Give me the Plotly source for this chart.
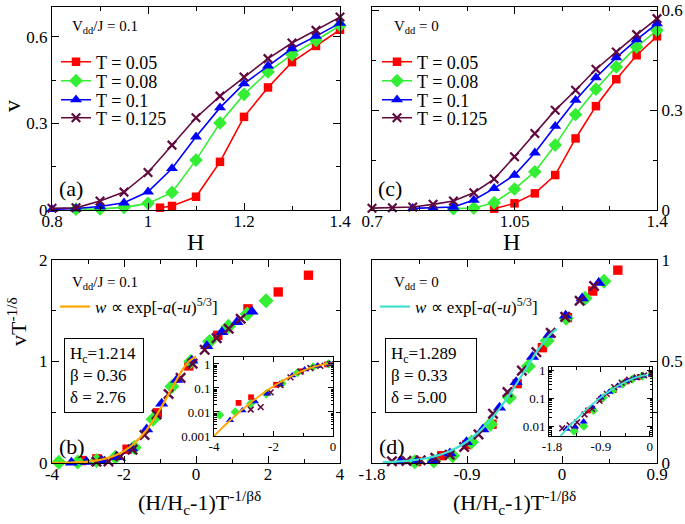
import plotly.graph_objects as go

SERIF = "Liberation Serif"
W, H = 685, 524

# ---------------- data ----------------
series_labels = ["T = 0.05", "T = 0.08", "T = 0.1", "T = 0.125"]
series_colors = ["#ff0000", "#33ee33", "#0000ff", "#600a40"]
series_symbols = ["square", "diamond", "triangle-up", "x-thin"]

# panel (a): V_dd/J = 0.1
H_a_005 = [1.025, 1.05, 1.1, 1.15, 1.2, 1.25, 1.3, 1.35, 1.4]
v_a_005 = [0.008, 0.014, 0.046, 0.167, 0.323, 0.425, 0.513, 0.569, 0.625]
H_a_008 = [0.85, 0.9, 0.95, 1.0, 1.05, 1.1, 1.15, 1.2, 1.25, 1.3, 1.35, 1.4]
v_a_008 = [0.003, 0.004, 0.009, 0.023, 0.061, 0.173, 0.302, 0.401, 0.479, 0.539, 0.588, 0.640]
H_a_010 = [0.8, 0.85, 0.9, 0.95, 1.0, 1.05, 1.1, 1.15, 1.2, 1.25, 1.3, 1.35, 1.4]
v_a_010 = [0.002, 0.005, 0.012, 0.025, 0.063, 0.144, 0.254, 0.355, 0.438, 0.500, 0.560, 0.603, 0.648]
H_a_0125 = [0.8, 0.85, 0.9, 0.95, 1.0, 1.05, 1.1, 1.15, 1.2, 1.25, 1.3, 1.35, 1.4]
v_a_0125 = [0.006, 0.0075, 0.031, 0.062, 0.130, 0.225, 0.320, 0.395, 0.461, 0.525, 0.579, 0.623, 0.669]

# panel (c): V_dd = 0
H_c_005 = [1.0, 1.05, 1.1, 1.15, 1.2, 1.25, 1.3, 1.35, 1.4]
v_c_005 = [0.004, 0.020, 0.050, 0.105, 0.215, 0.312, 0.393, 0.465, 0.522]
H_c_008 = [0.9, 0.95, 1.0, 1.05, 1.1, 1.15, 1.2, 1.25, 1.3, 1.35, 1.4]
v_c_008 = [0.004, 0.006, 0.022, 0.063, 0.115, 0.195, 0.287, 0.363, 0.430, 0.490, 0.540]
H_c_010 = [0.8, 0.85, 0.9, 0.95, 1.0, 1.05, 1.1, 1.15, 1.2, 1.25, 1.3, 1.35, 1.4]
v_c_010 = [0.005, 0.006, 0.009, 0.030, 0.065, 0.105, 0.172, 0.252, 0.330, 0.398, 0.458, 0.512, 0.560]
H_c_0125 = [0.7, 0.75, 0.8, 0.85, 0.9, 0.95, 1.0, 1.05, 1.1, 1.15, 1.2, 1.25, 1.3, 1.35, 1.4]
v_c_0125 = [0.0055, 0.007, 0.009, 0.017, 0.027, 0.052, 0.093, 0.160, 0.230, 0.300, 0.360, 0.423, 0.475, 0.527, 0.575]

# panel (b): scaled, V_dd/J = 0.1
u_b_005 = [-3.174, -2.754, -1.915, -1.075, -0.20, 0.605, 1.444, 2.284, 3.124]
w_b_005 = [0.024, 0.041, 0.136, 0.494, 0.956, 1.258, 1.519, 1.685, 1.850]
u_b_008 = [-3.810, -3.286, -2.763, -2.240, -1.716, -1.193, -0.670, -0.147, 0.377, 0.900, 1.423, 1.947]
w_b_008 = [0.0075, 0.0100, 0.0225, 0.0574, 0.152, 0.432, 0.754, 1.001, 1.196, 1.346, 1.468, 1.598]
u_b_010 = [-3.461, -3.043, -2.625, -2.207, -1.789, -1.371, -0.953, -0.535, -0.117, 0.301, 0.719, 1.137, 1.555]
w_b_010 = [0.0046, 0.0115, 0.0276, 0.0576, 0.145, 0.332, 0.585, 0.818, 1.009, 1.152, 1.290, 1.389, 1.492]
u_b_0125 = [-2.765, -2.431, -2.097, -1.763, -1.429, -1.095, -0.761, -0.427, -0.094, 0.240, 0.574, 0.908, 1.242]
w_b_0125 = [0.0127, 0.0159, 0.0659, 0.1317, 0.276, 0.478, 0.680, 0.839, 0.979, 1.115, 1.230, 1.323, 1.421]

# panel (d): scaled, V_dd = 0
u_d_005 = [-1.378, -1.139, -0.901, -0.663, -0.424, -0.186, 0.052, 0.291, 0.529]
w_d_005 = [0.0073, 0.036, 0.091, 0.191, 0.391, 0.568, 0.716, 0.847, 0.950]
u_d_008 = [-1.395, -1.215, -1.036, -0.857, -0.678, -0.498, -0.319, -0.140, 0.039, 0.219, 0.398]
w_d_008 = [0.0066, 0.0099, 0.036, 0.104, 0.191, 0.323, 0.476, 0.602, 0.713, 0.812, 0.895]
u_d_010 = [-1.531, -1.375, -1.218, -1.062, -0.905, -0.749, -0.592, -0.435, -0.279, -0.122, 0.034, 0.191, 0.348]
w_d_010 = [0.0079, 0.0095, 0.0143, 0.0475, 0.103, 0.166, 0.273, 0.399, 0.523, 0.631, 0.726, 0.811, 0.888]
u_d_0125 = [-1.611, -1.474, -1.338, -1.201, -1.064, -0.927, -0.791, -0.654, -0.517, -0.380, -0.243, -0.107,
            0.030, 0.167, 0.304]
w_d_0125 = [0.0083, 0.0106, 0.0136, 0.0258, 0.0409, 0.0788, 0.141, 0.243, 0.349, 0.455, 0.546, 0.641,
            0.720, 0.799, 0.872]

# fit curves w ~ exp[-a(-u)^(5/3)]
u_fit_b = [-4.0, -3.75, -3.5, -3.25, -3.0, -2.75, -2.5, -2.25, -2.0, -1.75, -1.5, -1.25, -1.0, -0.75, -0.5,
           -0.25, 0.0]
w_fit_b = [0.00100, 0.00204, 0.00401, 0.00767, 0.0142, 0.0253, 0.0437, 0.0730, 0.117, 0.182, 0.270, 0.386,
           0.527, 0.685, 0.845, 0.981, 1.050]
u_fit_d = [-1.7, -1.6, -1.5, -1.4, -1.3, -1.2, -1.1, -1.0, -0.9, -0.8, -0.7, -0.6, -0.5, -0.4, -0.3, -0.2,
           -0.1, -0.05]
w_fit_d = [0.00325, 0.00543, 0.00887, 0.01419, 0.0222, 0.0340, 0.0508, 0.0742, 0.1058, 0.1470, 0.1990,
           0.2620, 0.3351, 0.4155, 0.4985, 0.5764, 0.6390, 0.6601]

fit_label = "<i>w</i> \u221d exp[-<i>a</i>(-<i>u</i>)<sup>5/3</sup>]"

a_sets = [(H_a_005, v_a_005), (H_a_008, v_a_008), (H_a_010, v_a_010), (H_a_0125, v_a_0125)]
c_sets = [(H_c_005, v_c_005), (H_c_008, v_c_008), (H_c_010, v_c_010), (H_c_0125, v_c_0125)]
b_sets = [(u_b_005, w_b_005), (u_b_008, w_b_008), (u_b_010, w_b_010), (u_b_0125, w_b_0125)]
d_sets = [(u_d_005, w_d_005), (u_d_008, w_d_008), (u_d_010, w_d_010), (u_d_0125, w_d_0125)]


def marker(i, scale=1.0):
    base = [8.5, 10.5, 10.5, 8.5][i]
    sym = series_symbols[i]
    col = series_colors[i]
    if sym == "x-thin":
        return dict(symbol=sym, size=base * scale, color=col, line=dict(color=col, width=2.2 * max(scale, 0.7)))
    return dict(symbol=sym, size=base * scale, color=col, line=dict(width=0))


fig = go.Figure()

# (a) and (c): curves with markers
leg_idx = 1
for panel_sets, xa, ya in [(a_sets, "x", "y"), (c_sets, "x2", "y2")]:
    for i, (xs, ys) in enumerate(panel_sets):
        lname = "legend" if leg_idx == 1 else f"legend{leg_idx}"
        fig.add_trace(go.Scatter(
            x=xs, y=ys, mode="lines+markers", name=series_labels[i],
            line=dict(color=series_colors[i], width=1.6), marker=marker(i),
            xaxis=xa, yaxis=ya, legend=lname, showlegend=True, cliponaxis=False))
        leg_idx += 1

# (b) and (d): collapsed data + fit
for panel_sets, xa, ya, fx, fy, fcol, lname in [
        (b_sets, "x3", "y3", u_fit_b, w_fit_b, "#ffa500", "legend9"),
        (d_sets, "x4", "y4", u_fit_d, w_fit_d, "#40e0d0", "legend10")]:
    for i, (xs, ys) in enumerate(panel_sets):
        fig.add_trace(go.Scatter(x=xs, y=ys, mode="markers", marker=marker(i, 1.1),
                                 xaxis=xa, yaxis=ya, showlegend=False, cliponaxis=False))
    fig.add_trace(go.Scatter(x=fx, y=fy, mode="lines", name=fit_label,
                             line=dict(color=fcol, width=2.2, shape="spline"),
                             xaxis=xa, yaxis=ya, legend=lname, showlegend=True, cliponaxis=False))

# insets (log scale)
for panel_sets, xa, ya, fx, fy, fcol in [
        (b_sets, "x5", "y5", u_fit_b, w_fit_b, "#ffa500"),
        (d_sets, "x6", "y6", u_fit_d, w_fit_d, "#40e0d0")]:
    for i, (xs, ys) in enumerate(panel_sets):
        fig.add_trace(go.Scatter(x=xs, y=ys, mode="markers", marker=marker(i, 0.68),
                                 xaxis=xa, yaxis=ya, showlegend=False))
    fig.add_trace(go.Scatter(x=fx, y=fy, mode="lines", line=dict(color=fcol, width=1.8, shape="spline"),
                             xaxis=xa, yaxis=ya, showlegend=False))


def px_x(p):
    return p / W


def px_y(p):
    return 1 - p / H


def axis(dom, rng, tickvals, ticktext, minor_vals, side=None, size=17, log=False, ticklen=7, minorlen=4,
         standoff=0):
    d = dict(domain=dom, range=rng, tickvals=tickvals, ticktext=ticktext, automargin=False,
             showline=True, linecolor="black", linewidth=1, mirror="ticks",
             ticks="inside", ticklen=ticklen, tickwidth=1, tickcolor="black",
             showgrid=False, zeroline=False, fixedrange=True, ticklabelstandoff=standoff,
             tickfont=dict(family=SERIF, size=size, color="black"),
             minor=dict(tickvals=minor_vals, ticks="inside", ticklen=minorlen, tickwidth=1,
                        tickcolor="black", showgrid=False))
    if side:
        d["side"] = side
    if log:
        d["type"] = "log"
    return d


XL = [px_x(52), px_x(340)]
XR = [px_x(372), px_x(657)]
YT = [px_y(210), px_y(7)]
YB = [px_y(463), px_y(260)]

log_minor = [k * 10 ** e for e in (-3, -2, -1, 0) for k in range(2, 10)]

layout = dict(
    width=W, height=H, margin=dict(l=0, r=0, t=0, b=0, pad=0, autoexpand=False),
    paper_bgcolor="white", plot_bgcolor="white",
    font=dict(family=SERIF, color="black"),
    xaxis=axis(XL, [0.8, 1.4], [0.8, 1.0, 1.2, 1.4], ["0.8", "1", "1.2", "1.4"], [0.9, 1.1, 1.3],
               standoff=-4),
    yaxis=axis(YT, [0, 0.704], [0, 0.3, 0.6], ["0", "0.3", "0.6"], [0.15, 0.45]),
    xaxis2=axis(XR, [0.7, 1.4], [0.7, 1.05, 1.4], ["0.7", "1.05", "1.4"], [0.81667, 0.93333, 1.16667, 1.28333],
                standoff=-4),
    yaxis2=axis(YT, [0, 0.61], [0, 0.3, 0.6], ["0", "0.3", "0.6"], [0.15, 0.45], side="right"),
    xaxis3=axis(XL, [-4, 4], [-4, -2, 0, 2, 4], ["-4", "-2", "0", "2", "4"], [-3, -1, 1, 3], standoff=-4),
    yaxis3=axis(YB, [0, 2], [0, 1, 2], ["0", "1", "2"], [0.5, 1.5]),
    xaxis4=axis(XR, [-1.8, 0.9], [-1.8, -0.9, 0, 0.9], ["-1.8", "-0.9", "0", "0.9"], [-1.35, -0.45, 0.45],
                standoff=-4),
    yaxis4=axis(YB, [0, 1], [0, 0.5, 1], ["0", "0.5", "1"], [0.25, 0.75], side="right"),
    xaxis5=axis([px_x(214), px_x(333)], [-4, 0], [-4, -2, 0], ["-4", "-2", "0"], [-3, -1], size=13,
                ticklen=5, minorlen=3, standoff=-2),
    yaxis5=axis([px_y(436), px_y(357)], [-3, 0.29], [0.001, 0.01, 0.1, 1], ["0.001", "0.01", "0.1", "1"],
                log_minor, size=13, log=True, ticklen=5, minorlen=2.5),
    xaxis6=axis([px_x(549), px_x(652)], [-1.855, 0.04], [-1.8, -0.9, 0], ["-1.8", "-0.9", "0"], [-1.35, -0.45],
                size=13, ticklen=5, minorlen=3, standoff=-2),
    yaxis6=axis([px_y(436), px_y(367)], [-2.357, 0.107], [0.01, 0.1, 1], ["0.01", "0.1", "1"],
                log_minor, size=13, log=True, ticklen=5, minorlen=2.5),
)
for k in ("xaxis", "xaxis2", "xaxis3", "xaxis4", "xaxis5", "xaxis6"):
    layout[k]["anchor"] = "y" + k[5:]
for k in ("yaxis", "yaxis2", "yaxis3", "yaxis4", "yaxis5", "yaxis6"):
    layout[k]["anchor"] = "x" + k[5:]


def leg(xp, yp, size=18):
    return dict(x=px_x(xp), y=px_y(yp), xanchor="left", yanchor="middle", bgcolor="rgba(0,0,0,0)",
                borderwidth=0, font=dict(family=SERIF, size=size, color="black"), itemwidth=30,
                tracegroupgap=0)


rows = [62, 81, 100, 118]
for j, yp in enumerate(rows):
    layout["legend" if j == 0 else f"legend{j + 1}"] = leg(56, yp)
    layout[f"legend{j + 5}"] = leg(377, yp)
layout["legend9"] = leg(55, 307, 17)
layout["legend10"] = leg(375, 307, 17)

ann = []


def text(s, xp, yp, size, xanchor="center", yanchor="middle", angle=0, **kw):
    d = dict(text=s, x=px_x(xp), y=px_y(yp), xref="paper", yref="paper", xanchor=xanchor, yanchor=yanchor,
             showarrow=False, textangle=angle, font=dict(family=SERIF, size=size, color="black"))
    d.update(kw)
    ann.append(d)


text("V<sub>dd</sub>/J = 0.1", 70, 27, 15, xanchor="left")
text("V<sub>dd</sub> = 0", 392, 27, 15, xanchor="left")
text("V<sub>dd</sub>/J = 0.1", 70, 283, 15, xanchor="left")
text("V<sub>dd</sub> = 0", 392, 283, 15, xanchor="left")
text("(a)", 57, 188, 22, xanchor="left")
text("(c)", 376, 188, 22, xanchor="left")
text("(b)", 57, 446, 22, xanchor="left")
text("(d)", 377, 446, 22, xanchor="left")
text("v", 12, 106, 24, angle=-90)
text("H", 196, 242, 24)
text("H", 511, 242, 24)
text("vT<sup>-1/\u03b4</sup>", 17, 322, 22, angle=-90)
text("(H/H<sub>c</sub>-1)T<sup>-1/\u03b2\u03b4</sup>", 199, 502, 22)
text("(H/H<sub>c</sub>-1)T<sup>-1/\u03b2\u03b4</sup>", 514, 502, 22)
text("H<sub>c</sub>=1.214<br>\u03b2 = 0.36<br>\u03b4 = 2.76", 104, 375, 17, align="left",
     bordercolor="black", borderwidth=1, borderpad=5, width=68, bgcolor="white")
text("H<sub>c</sub>=1.289<br>\u03b2 = 0.33<br>\u03b4 = 5.00", 431, 375, 17, align="left",
     bordercolor="black", borderwidth=1, borderpad=5, width=80, bgcolor="white")

layout["annotations"] = ann
fig.update_layout(**layout)
fig.write_html("out.html", post_script="document.body.style.margin='0px';",
               config={"displayModeBar": False})
